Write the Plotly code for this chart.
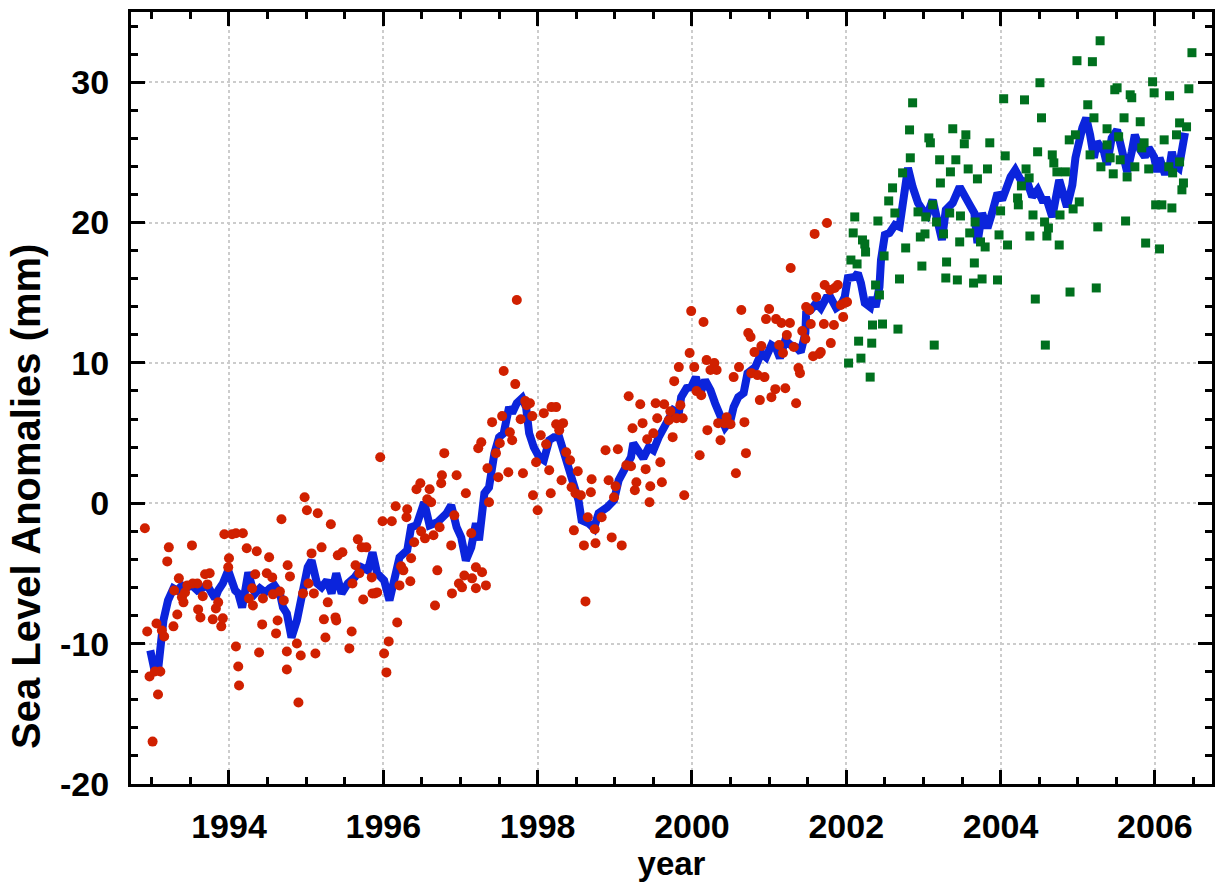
import plotly.graph_objects as go

# ---- smoothed global mean sea level (blue line) ----
line_year = [1992.98, 1993.03, 1993.08, 1993.15, 1993.21, 1993.28, 1993.33, 1993.39, 1993.46, 1993.52,
             1993.59, 1993.65, 1993.72, 1993.78, 1993.82, 1993.86, 1993.92, 1993.99, 1994.04, 1994.08,
             1994.12, 1994.17, 1994.21, 1994.25, 1994.30, 1994.34, 1994.40, 1994.47, 1994.53, 1994.59,
             1994.66, 1994.70, 1994.75, 1994.79, 1994.81, 1994.88, 1994.94, 1995.02, 1995.07, 1995.14,
             1995.20, 1995.27, 1995.33, 1995.39, 1995.46, 1995.54, 1995.63, 1995.72, 1995.80, 1995.86,
             1995.92, 1996.01, 1996.08, 1996.14, 1996.21, 1996.31, 1996.36, 1996.43, 1996.49, 1996.53,
             1996.60, 1996.70, 1996.82, 1996.88, 1996.95, 1997.01, 1997.07, 1997.14, 1997.20, 1997.24,
             1997.31, 1997.37, 1997.44, 1997.50, 1997.56, 1997.63, 1997.67, 1997.73, 1997.80, 1997.85,
             1997.89, 1997.95, 1998.02, 1998.08, 1998.15, 1998.21, 1998.28, 1998.34, 1998.40, 1998.47,
             1998.53, 1998.57, 1998.66, 1998.73, 1998.79, 1998.90, 1998.99, 1999.05, 1999.14, 1999.21,
             1999.24, 1999.31, 1999.37, 1999.44, 1999.50, 1999.57, 1999.63, 1999.70, 1999.76, 1999.83,
             1999.86, 1999.93, 1999.99, 2000.05, 2000.11, 2000.17, 2000.24, 2000.30, 2000.37, 2000.43,
             2000.50, 2000.54, 2000.60, 2000.67, 2000.72, 2000.82, 2000.90, 2000.96, 2001.03, 2001.09,
             2001.14, 2001.21, 2001.28, 2001.35, 2001.41, 2001.47, 2001.48, 2001.54, 2001.61, 2001.67,
             2001.74, 2001.80, 2001.87, 2001.93, 2001.98, 2002.02, 2002.11, 2002.15, 2002.19, 2002.24,
             2002.31, 2002.34, 2002.38, 2002.43, 2002.45, 2002.50, 2002.56, 2002.63, 2002.69, 2002.73,
             2002.76, 2002.80, 2002.86, 2002.93, 2002.99, 2003.05, 2003.12, 2003.18, 2003.24, 2003.29,
             2003.38, 2003.47, 2003.53, 2003.60, 2003.66, 2003.70, 2003.76, 2003.83, 2003.89, 2003.96,
             2004.02, 2004.06, 2004.13, 2004.19, 2004.26, 2004.35, 2004.41, 2004.48, 2004.54, 2004.60,
             2004.67, 2004.76, 2004.82, 2004.86, 2004.93, 2004.97, 2005.06, 2005.11, 2005.16, 2005.21,
             2005.25, 2005.34, 2005.38, 2005.44, 2005.51, 2005.55, 2005.60, 2005.64, 2005.70, 2005.74,
             2005.81, 2005.87, 2005.92, 2005.99, 2006.03, 2006.06, 2006.12, 2006.18, 2006.22, 2006.26,
             2006.31, 2006.35, 2006.39]
line_mm = [-10.48, -11.77, -11.91, -8.35, -6.92, -6.06, -6.21, -5.85, -5.99, -5.85,
           -6.21, -5.99, -5.85, -6.42, -6.78, -6.21, -5.71, -4.78, -5.71, -6.21,
           -6.42, -7.42, -6.21, -4.92, -5.99, -6.42, -6.06, -6.35, -6.06, -5.85,
           -6.42, -7.42, -7.85, -9.27, -9.56, -8.35, -6.42, -4.56, -4.07, -5.71,
           -5.99, -5.49, -6.42, -4.99, -6.42, -5.71, -5.28, -4.56, -4.78, -3.49,
           -4.99, -5.49, -6.92, -5.49, -3.85, -3.35, -1.71, -1.57, -0.71, 0.07,
           -1.57, -1.36, -0.71, -0.14, -1.71, -2.43, -4.07, -3.14, -1.43, -2.64,
           0.71, 1.14, 3.57, 4.71, 4.99, 6.85, 6.42, 7.13, 7.49, 6.85,
           4.99, 3.99, 3.28, 3.07, 4.49, 4.71, 4.71, 3.57, 2.35, 1.43,
           0.21, -1.21, -1.43, -1.78, -0.71, -0.29, 0.21, 1.64, 2.71, 3.28,
           4.28, 3.78, 3.21, 3.99, 3.78, 4.71, 5.42, 6.13, 6.63, 6.42,
           7.56, 8.20, 8.27, 8.99, 7.85, 8.77, 8.06, 7.13, 6.13, 5.42,
           5.92, 6.85, 7.56, 7.85, 9.27, 9.70, 10.70, 10.41, 11.27, 11.06,
           10.34, 11.63, 11.27, 11.13, 10.77, 12.13, 13.55, 13.77, 14.27, 13.91,
           14.62, 14.62, 13.91, 14.12, 14.69, 16.05, 16.12, 16.40, 15.69, 14.27,
           13.98, 14.69, 13.98, 15.41, 17.33, 19.12, 19.26, 19.83, 19.69, 21.40,
           23.25, 23.89, 22.54, 21.40, 20.90, 20.54, 21.61, 20.18, 18.76, 20.90,
           21.40, 22.54, 21.83, 21.26, 20.68, 18.54, 20.68, 19.61, 20.68, 22.11,
           21.61, 22.33, 23.25, 23.75, 23.04, 22.82, 21.83, 22.33, 21.61, 21.61,
           20.40, 23.04, 21.75, 21.11, 22.68, 24.61, 26.75, 27.46, 26.25, 24.61,
           25.75, 25.04, 24.11, 26.03, 26.60, 25.53, 24.11, 23.61, 25.04, 26.25,
           25.18, 24.68, 25.32, 24.68, 23.61, 24.61, 23.61, 23.61, 25.04, 24.11,
           23.89, 25.04, 26.39]

# ---- TOPEX/Poseidon cycles (red dots) ----
topex_year = [1992.91, 1992.94, 1992.97, 1993.01, 1993.04, 1993.06, 1993.08, 1993.11, 1993.13, 1993.16,
              1993.20, 1993.22, 1993.28, 1993.29, 1993.33, 1993.35, 1993.39, 1993.41, 1993.43, 1993.46,
              1993.52, 1993.53, 1993.59, 1993.60, 1993.63, 1993.66, 1993.69, 1993.72, 1993.75, 1993.79,
              1993.83, 1993.86, 1993.90, 1993.92, 1993.94, 1993.99, 1994.00, 1994.04, 1994.09, 1994.09,
              1994.12, 1994.13, 1994.18, 1994.23, 1994.26, 1994.30, 1994.31, 1994.34, 1994.36, 1994.39,
              1994.43, 1994.44, 1994.49, 1994.52, 1994.56, 1994.57, 1994.61, 1994.63, 1994.66, 1994.68,
              1994.71, 1994.75, 1994.75, 1994.76, 1994.79, 1994.88, 1994.90, 1994.93, 1994.96, 1994.98,
              1995.01, 1995.03, 1995.07, 1995.10, 1995.12, 1995.15, 1995.20, 1995.23, 1995.25, 1995.28,
              1995.32, 1995.38, 1995.39, 1995.41, 1995.47, 1995.56, 1995.59, 1995.60, 1995.64, 1995.67,
              1995.69, 1995.72, 1995.74, 1995.78, 1995.85, 1995.86, 1995.89, 1995.92, 1995.96, 1995.99,
              1996.01, 1996.04, 1996.07, 1996.11, 1996.16, 1996.18, 1996.21, 1996.23, 1996.26, 1996.30,
              1996.31, 1996.35, 1996.36, 1996.40, 1996.43, 1996.48, 1996.49, 1996.54, 1996.57, 1996.60,
              1996.62, 1996.65, 1996.67, 1996.70, 1996.73, 1996.75, 1996.76, 1996.79, 1996.88, 1996.89,
              1996.92, 1996.95, 1996.98, 1997.02, 1997.05, 1997.07, 1997.14, 1997.15, 1997.20, 1997.20,
              1997.23, 1997.27, 1997.28, 1997.33, 1997.35, 1997.37, 1997.41, 1997.46, 1997.49, 1997.51,
              1997.54, 1997.56, 1997.62, 1997.64, 1997.67, 1997.71, 1997.73, 1997.78, 1997.81, 1997.84,
              1997.86, 1997.90, 1997.93, 1997.94, 1997.98, 1998.00, 1998.04, 1998.08, 1998.11, 1998.15,
              1998.17, 1998.18, 1998.24, 1998.24, 1998.28, 1998.31, 1998.33, 1998.37, 1998.42, 1998.44,
              1998.47, 1998.49, 1998.52, 1998.56, 1998.60, 1998.62, 1998.65, 1998.69, 1998.70, 1998.74,
              1998.75, 1998.83, 1998.88, 1998.92, 1998.96, 1998.99, 1999.01, 1999.04, 1999.09, 1999.15,
              1999.18, 1999.21, 1999.23, 1999.26, 1999.28, 1999.33, 1999.36, 1999.40, 1999.42, 1999.45,
              1999.46, 1999.50, 1999.53, 1999.55, 1999.59, 1999.61, 1999.64, 1999.70, 1999.72, 1999.75,
              1999.77, 1999.80, 1999.83, 1999.85, 1999.88, 1999.90, 1999.97, 1999.99, 2000.03, 2000.06,
              2000.10, 2000.12, 2000.15, 2000.19, 2000.20, 2000.24, 2000.29, 2000.32, 2000.34, 2000.37,
              2000.42, 2000.45, 2000.50, 2000.54, 2000.57, 2000.61, 2000.64, 2000.68, 2000.70, 2000.73,
              2000.76, 2000.77, 2000.81, 2000.85, 2000.88, 2000.90, 2000.94, 2000.96, 2001.00, 2001.03,
              2001.08, 2001.09, 2001.13, 2001.16, 2001.18, 2001.21, 2001.23, 2001.27, 2001.28, 2001.32,
              2001.35, 2001.38, 2001.40, 2001.43, 2001.47, 2001.48, 2001.52, 2001.54, 2001.57, 2001.59,
              2001.61, 2001.65, 2001.67, 2001.71, 2001.72, 2001.75, 2001.79, 2001.80, 2001.84, 2001.85,
              2001.89, 2001.93, 2001.96, 2001.98, 2002.01]
topex_mm = [-1.78, -9.13, -12.34, -16.98, -11.98, -8.56, -13.62, -11.98, -9.06, -9.49,
            -4.14, -3.14, -8.77, -6.21, -7.92, -5.35, -6.70, -7.06, -6.35, -5.85,
            -3.00, -5.71, -5.71, -7.56, -8.13, -6.63, -5.06, -5.78, -4.99, -8.27,
            -7.49, -7.06, -8.77, -8.20, -2.21, -4.56, -3.92, -2.21, -2.14, -10.20,
            -11.63, -12.98, -2.14, -3.21, -6.78, -6.06, -7.28, -5.06, -3.42, -10.63,
            -8.63, -6.78, -4.99, -3.85, -5.28, -6.49, -9.27, -8.35, -6.28, -1.14,
            -6.92, -10.56, -11.84, -4.42, -5.21, -9.99, -14.19, -10.84, -6.42, 0.43,
            -0.50, -5.71, -3.57, -6.42, -10.70, -0.71, -3.14, -8.27, -9.56, -7.06,
            -1.50, -8.13, -8.35, -3.71, -3.49, -10.34, -9.13, -5.71, -4.42, -2.57,
            -4.99, -3.14, -6.85, -3.14, -5.28, -6.42, -6.42, -6.35, 3.28, -1.28,
            -10.70, -12.05, -9.84, -1.28, -0.21, -8.49, -5.85, -4.49, -4.78, -1.00,
            -0.43, -5.56, -3.92, -2.78, 1.00, 1.43, -2.00, -2.50, 0.29, 1.00,
            0.07, -2.28, -7.28, -4.78, -1.71, 1.43, 2.00, 3.57, -3.00, -6.42,
            -0.86, 2.00, -5.71, -5.99, -5.14, 0.71, -2.14, -5.35, -4.56, -6.06,
            3.92, 4.35, -4.92, -5.85, 2.50, 0.07, 5.78, 3.57, 1.85, 4.28,
            6.21, 9.42, 2.21, 5.06, 4.49, 8.49, 14.48, 5.99, 2.14, 7.28,
            6.99, 7.13, 6.21, 0.57, 2.92, -0.50, 4.85, 6.42, 4.21, 2.35,
            0.71, 6.85, 6.85, 5.63, 5.21, 1.64, 5.71, 3.64, 3.07, 1.14,
            -1.93, 0.71, 2.28, 0.57, -3.00, -6.99, -1.00, 0.78, 1.71, -1.85,
            -2.85, -1.00, 3.78, 1.64, -2.43, 0.43, 1.21, 3.85, -3.00, 2.71,
            7.63, 2.64, 5.35, 0.93, 1.50, 7.06, 5.71, 2.43, 4.56, 0.07,
            1.21, 4.99, 7.13, 6.06, 2.92, 1.50, 7.06, 5.92, 6.56, 4.71,
            8.70, 6.06, 9.70, 6.99, 6.06, 0.57, 10.70, 13.69, 9.70, 7.99,
            3.42, 7.70, 12.91, 10.20, 5.21, 9.49, 9.99, 9.49, 5.71, 4.49,
            5.71, 6.13, 5.63, 8.99, 2.14, 9.70, 13.77, 5.78, 3.57, 12.13,
            11.84, 9.27, 10.77, 9.13, 7.35, 11.20, 8.99, 13.12, 13.84, 7.56,
            8.13, 13.12, 11.27, 12.84, 10.70, 8.20, 11.98, 12.84, 16.76, 11.13,
            7.13, 9.63, 9.27, 12.27, 11.70, 13.98, 13.77, 12.77, 10.48, 19.19,
            14.69, 10.63, 10.77, 12.77, 15.55, 19.97, 15.19, 11.41, 12.70, 15.34,
            15.55, 14.12, 13.27, 14.27, 14.34]

# ---- Jason-1 cycles (green squares) ----
jason_year = [2002.03, 2002.06, 2002.09, 2002.11, 2002.14, 2002.16, 2002.19, 2002.21, 2002.24, 2002.25,
              2002.31, 2002.33, 2002.34, 2002.38, 2002.41, 2002.43, 2002.47, 2002.49, 2002.55, 2002.60,
              2002.63, 2002.67, 2002.69, 2002.73, 2002.77, 2002.82, 2002.83, 2002.86, 2002.93, 2002.96,
              2002.98, 2003.02, 2003.03, 2003.07, 2003.09, 2003.12, 2003.14, 2003.17, 2003.21, 2003.22,
              2003.26, 2003.29, 2003.30, 2003.34, 2003.35, 2003.38, 2003.42, 2003.44, 2003.47, 2003.48,
              2003.53, 2003.55, 2003.58, 2003.60, 2003.65, 2003.66, 2003.67, 2003.70, 2003.74, 2003.76,
              2003.80, 2003.83, 2003.86, 2003.96, 2003.98, 2004.00, 2004.04, 2004.06, 2004.09, 2004.22,
              2004.23, 2004.27, 2004.31, 2004.33, 2004.37, 2004.38, 2004.42, 2004.45, 2004.48, 2004.51,
              2004.53, 2004.57, 2004.58, 2004.60, 2004.62, 2004.67, 2004.69, 2004.73, 2004.76, 2004.77,
              2004.84, 2004.89, 2004.90, 2004.94, 2004.97, 2004.99, 2005.02, 2005.13, 2005.16, 2005.19,
              2005.21, 2005.24, 2005.26, 2005.29, 2005.30, 2005.38, 2005.38, 2005.42, 2005.46, 2005.48,
              2005.51, 2005.53, 2005.55, 2005.60, 2005.62, 2005.64, 2005.68, 2005.70, 2005.74, 2005.81,
              2005.83, 2005.86, 2005.88, 2005.92, 2005.97, 2005.99, 2006.01, 2006.06, 2006.09, 2006.12,
              2006.18, 2006.19, 2006.22, 2006.23, 2006.28, 2006.32, 2006.32, 2006.35, 2006.37, 2006.41,
              2006.44, 2006.48]
jason_mm = [9.99, 17.33, 19.26, 20.40, 17.05, 11.55, 10.34, 18.76, 18.47, 17.90,
            8.99, 11.41, 12.70, 15.55, 20.11, 14.84, 12.77, 17.62, 21.54, 22.47,
            20.68, 12.41, 15.98, 23.54, 18.19, 26.60, 24.61, 28.53, 20.76, 18.97,
            16.90, 19.19, 20.40, 26.03, 25.68, 21.26, 11.27, 20.04, 24.47, 22.82,
            19.19, 16.05, 17.19, 20.68, 23.61, 26.68, 24.47, 15.91, 18.62, 20.47,
            25.61, 26.25, 23.82, 19.26, 15.69, 17.12, 20.04, 23.11, 18.62, 15.98,
            18.26, 23.82, 25.68, 15.91, 19.12, 20.83, 28.82, 24.75, 18.40, 21.75,
            21.26, 22.61, 28.74, 23.82, 23.18, 19.04, 20.54, 14.55, 25.04, 29.96,
            27.46, 20.04, 11.27, 19.04, 19.61, 24.82, 24.25, 23.61, 18.40, 20.54,
            23.61, 25.89, 15.05, 20.97, 26.25, 31.53, 21.47, 28.39, 24.82, 31.46,
            27.46, 15.34, 19.69, 32.95, 23.97, 26.68, 25.53, 24.61, 23.47, 29.46,
            29.60, 26.11, 24.47, 27.46, 20.11, 23.25, 29.10, 28.89, 23.97, 27.18,
            25.32, 25.68, 18.54, 23.82, 30.03, 29.24, 21.26, 18.12, 21.26, 25.89,
            23.97, 29.03, 21.04, 23.54, 26.25, 24.32, 27.10, 22.33, 22.82, 26.82,
            29.53, 32.10]

x_ticks = [1994, 1996, 1998, 2000, 2002, 2004, 2006]
y_ticks = [-20, -10, 0, 10, 20, 30]

FONT = "Liberation Sans"
BLUE = "#0b24dc"
RED = "#d02000"
GREEN = "#00701e"

fig = go.Figure()
fig.add_trace(go.Scatter(x=line_year, y=line_mm, mode="lines",
                         line=dict(color=BLUE, width=8), hoverinfo="skip"))
fig.add_trace(go.Scatter(x=topex_year, y=topex_mm, mode="markers",
                         marker=dict(symbol="circle", size=10, color=RED, line=dict(width=0))))
fig.add_trace(go.Scatter(x=jason_year, y=jason_mm, mode="markers",
                         marker=dict(symbol="square", size=9, color=GREEN, line=dict(width=0))))

axis_common = dict(
    showline=True, linecolor="black", linewidth=3, mirror="ticks",
    ticks="inside", ticklen=14, tickwidth=3, tickcolor="black",
    showgrid=True, gridcolor="#cccccc", gridwidth=2, griddash="dot",
    zeroline=False,
    tickfont=dict(family=FONT, size=34, color="black", weight="bold"),
)

fig.update_xaxes(**axis_common, range=[1992.73, 2006.74],
                 tickmode="array", tickvals=x_ticks, ticktext=[str(v) for v in x_ticks],
                 minor=dict(dtick=0.5, tick0=1993, ticks="inside", ticklen=7, tickwidth=3,
                            tickcolor="black", showgrid=False),
                 title=dict(text="year", font=dict(family=FONT, size=33, color="black", weight="bold"),
                            standoff=4),
                 ticklabelstandoff=10)
fig.update_yaxes(**axis_common, range=[-20, 35],
                 tickmode="array", tickvals=y_ticks, ticktext=[str(v) for v in y_ticks],
                 minor=dict(dtick=2, tick0=0, ticks="inside", ticklen=7, tickwidth=3,
                            tickcolor="black", showgrid=False),
                 ticklabelstandoff=12)

fig.add_annotation(text="Sea Level Anomalies (mm)", textangle=-90,
                   xref="paper", yref="paper", x=-0.097, y=0.372,
                   xanchor="center", yanchor="middle", showarrow=False,
                   font=dict(family=FONT, size=40, color="black", weight="bold"))

fig.update_layout(
    width=1219, height=884,
    margin=dict(l=131, r=4, t=12, b=100),
    plot_bgcolor="white", paper_bgcolor="white",
    showlegend=False,
)

fig.write_html("out.html", config={"displayModeBar": False},
               post_script="document.body.style.margin='0';")
